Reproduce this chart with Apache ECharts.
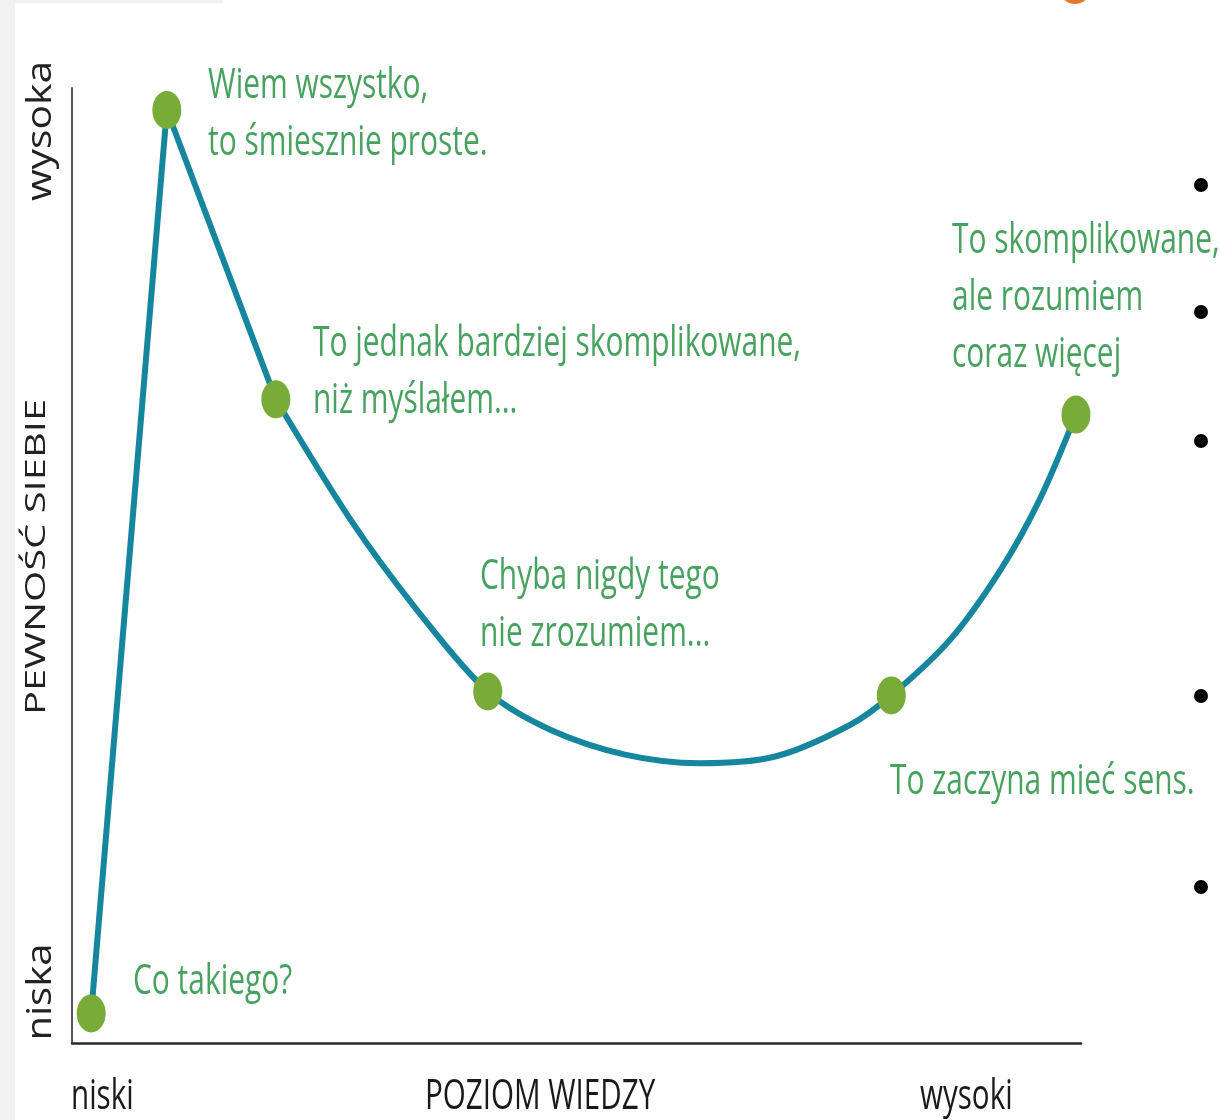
<!DOCTYPE html>
<html>
<head>
<meta charset="utf-8">
<script src="https://cdn.jsdelivr.net/npm/echarts@6/dist/echarts.min.js"></script>
<style>
html, body { margin: 0; padding: 0; background: #fff; }
#chart { width: 1220px; height: 1120px; }
</style>
</head>
<body>
<div id="chart"></div>
<script>
// oś X: poziom wiedzy 0-100, oś Y: pewność siebie 0-100
// odcinki proste: start -> szczyt -> drugi punkt
const riseX = [1.9, 9.4, 20.2]
const riseY = [3.1, 97.7, 67.4]
// gładka krzywa od drugiego punktu do końca
const curveX = [20.2, 27.6, 34.0, 41.2, 47.4, 54.8, 62.2, 69.7, 77.1, 81.2, 87.0, 92.0, 95.9, 99.5]
const curveY = [67.4, 54.8, 45.6, 36.8, 32.8, 30.2, 29.3, 30.0, 33.3, 36.4, 42.2, 49.5, 56.9, 65.8]
// zielone punkty
const dotX = [1.9, 9.4, 20.2, 41.2, 81.2, 99.5]
const dotY = [3.1, 97.7, 67.4, 36.8, 36.4, 65.8]
// podpisy
const noteTexts = [
  ['Wiem wszystko,', 'to śmiesznie proste.'],
  ['To jednak bardziej skomplikowane,', 'niż myślałem...'],
  ['Chyba nigdy tego', 'nie zrozumiem...'],
  ['To skomplikowane,', 'ale rozumiem', 'coraz więcej'],
  ['To zaczyna mieć sens.'],
  ['Co takiego?']
]
const xTickLabels = ['niski', 'POZIOM WIEDZY', 'wysoki']
const yTickLabels = ['niska', 'PEWNOŚĆ SIEBIE', 'wysoka']

const teal = '#16869f'
const green = '#78ab38'
const textGreen = '#47a25f'
const font = '"Open Sans", "Noto Sans", sans-serif'

const notePos = [[208, 86], [313, 344], [480, 577], [952, 241], [890, 782], [133, 982]]
const lineGap = 57

let graphic = []
// szare pasy przy krawedzi (zrzut ekranu)
graphic.push({ type: 'rect', shape: { x: 0, y: 0, width: 15, height: 1120 }, style: { fill: '#f1f1f1' }, silent: true })
graphic.push({ type: 'rect', shape: { x: 15, y: 0, width: 208, height: 3 }, style: { fill: '#f1f1f1' }, silent: true })
graphic.push({ type: 'circle', shape: { cx: 1075, cy: -12, r: 16 }, style: { fill: '#e07a2a' }, silent: true })
// kropki punktorów po prawej
;[185, 312, 441, 696, 887].forEach(y => {
  graphic.push({ type: 'circle', shape: { cx: 1201, cy: y, r: 7 }, style: { fill: '#000' }, silent: true })
})

noteTexts.forEach((lines, i) => {
  lines.forEach((t, j) => {
    graphic.push({
      type: 'text',
      x: notePos[i][0],
      y: notePos[i][1] + j * lineGap,
      scaleX: 0.88,
      scaleY: 1.25,
      style: {
        text: t,
        fill: textGreen,
        font: '34px ' + font,
        align: 'left',
        verticalAlign: 'middle'
      }
    })
  })
})

// podpisy osi X
const xLabelPos = [71, 425, 920]
xTickLabels.forEach((t, i) => {
  graphic.push({
    type: 'text',
    x: xLabelPos[i],
    y: 1097,
    scaleX: 0.87,
    scaleY: 1.25,
    style: { text: t, fill: '#1a1a1a', font: '34px ' + font, align: 'left', verticalAlign: 'middle' }
  })
})

// podpisy osi Y (pionowe)
const yLabelPos = [[41, 992, 34, 1.18], [37, 557, 27, 1.48], [41, 131, 34, 1.2]]
yTickLabels.forEach((t, i) => {
  const p = yLabelPos[i]
  graphic.push({
    type: 'text',
    x: p[0],
    y: p[1],
    rotation: Math.PI / 2,
    scaleX: p[3],
    style: { text: t, fill: '#222', font: p[2] + 'px ' + font, align: 'center', verticalAlign: 'middle' }
  })
})

let myChart = echarts.init(document.getElementById('chart'))
const option = {
  backgroundColor: '#fff',
  animation: false,
  grid: { left: 72, right: 139, top: 88, bottom: 77 },
  xAxis: {
    type: 'value',
    min: 0,
    max: 100,
    axisLine: { show: true, onZero: false, lineStyle: { color: '#2a2a2a', width: 2.5 } },
    axisTick: { show: false },
    axisLabel: { show: false },
    splitLine: { show: false }
  },
  yAxis: {
    type: 'value',
    min: 0,
    max: 100,
    axisLine: { show: true, onZero: false, lineStyle: { color: '#555', width: 2 } },
    axisTick: { show: false },
    axisLabel: { show: false },
    splitLine: { show: false }
  },
  series: [{
    type: 'line',
    data: riseX.map((x, i) => [x, riseY[i]]),
    showSymbol: false,
    lineStyle: { color: teal, width: 6, cap: 'round', join: 'round' },
    z: 2
  }, {
    type: 'line',
    smooth: 0.3,
    data: curveX.map((x, i) => [x, curveY[i]]),
    showSymbol: false,
    lineStyle: { color: teal, width: 6, cap: 'round' },
    z: 2
  }, {
    type: 'scatter',
    data: dotX.map((x, i) => [x, dotY[i]]),
    symbol: 'circle',
    symbolSize: [29, 38],
    itemStyle: { color: green, opacity: 1 },
    z: 3
  }],
  graphic: graphic
}
myChart.setOption(option)
</script>
</body>
</html>
